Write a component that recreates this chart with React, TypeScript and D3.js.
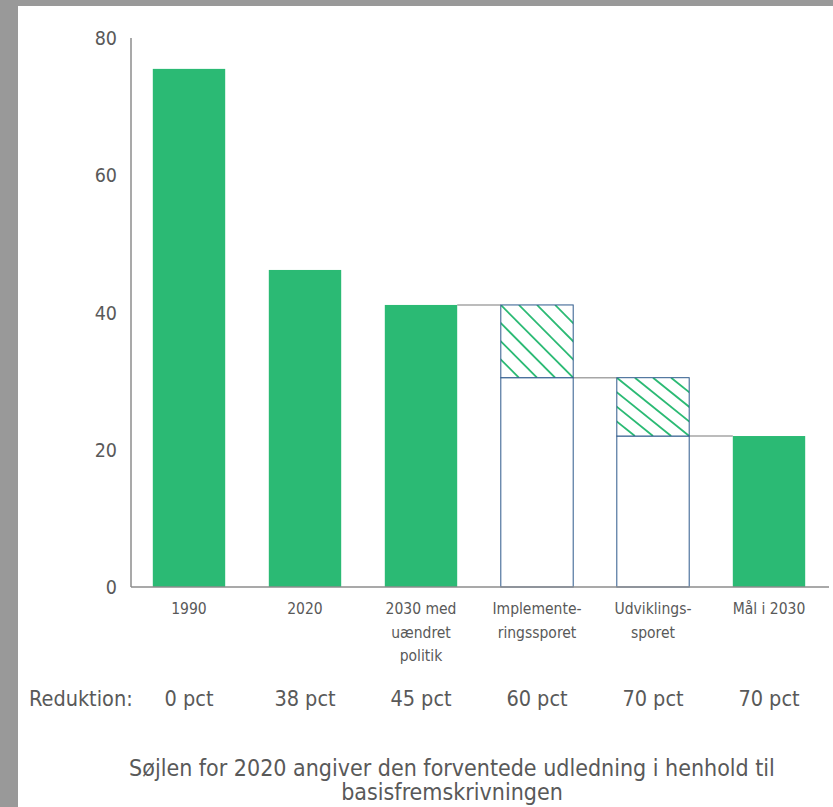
import React from "react";
import * as d3 from "d3";

// Emission bars (index values), the hatched part is the reduction a track delivers
const categories = ["1990", "2020", "2030 med uændret politik", "Implementeringssporet", "Udviklingssporet", "Mål i 2030"];
const categoryLines = [
  ["1990"],
  ["2020"],
  ["2030 med", "uændret", "politik"],
  ["Implemente-", "ringssporet"],
  ["Udviklings-", "sporet"],
  ["Mål i 2030"],
];
const baseValues = [75.5, 46.2, 41.1, 30.5, 22.0, 22.0];
const reductionValues = [0, 0, 0, 10.6, 8.5, 0];
const solidBars = [true, true, true, false, false, true];
const reductionLabels = ["0 pct", "38 pct", "45 pct", "60 pct", "70 pct", "70 pct"];
const yTicks = [0, 20, 40, 60, 80];
const captionLines = ["Søjlen for 2020 angiver den forventede udledning i henhold til", "basisfremskrivningen"];
const hatchOffsets = [-0.75, -0.5, -0.25, 0, 0.25, 0.5, 0.75];

const W = 833;
const H = 807;
const FONT = "'DejaVu Sans Condensed', 'DejaVu Sans', sans-serif";
const TEXT = "#595959";
const GREEN = "#2BBA74";
const NAVY = "#2E5A8C";

export default function App() {
  const x = d3.scaleBand<string>().domain(categories).range([131, 827]).paddingInner(0.376).paddingOuter(0.188);
  const y = d3.scaleLinear().domain([0, 80]).range([587, 38]);
  const bw = x.bandwidth();
  const cx = (c: string) => (x(c) as number) + bw / 2;

  return (
    <svg width={W} height={H} style={{ position: "absolute", left: 0, top: 0, display: "block" }} fontFamily={FONT}>
      <rect x={0} y={0} width={W} height={H} fill="#999999" />
      <rect x={18} y={6} width={W - 18} height={H - 6} fill="#ffffff" />

      <defs>
        {categories.map((c, i) =>
          reductionValues[i] > 0 ? (
            <clipPath id={`clip-${i}`} key={c}>
              <rect x={x(c)} y={y(baseValues[i] + reductionValues[i])} width={bw} height={y(baseValues[i]) - y(baseValues[i] + reductionValues[i])} />
            </clipPath>
          ) : null
        )}
      </defs>

      {/* connectors between consecutive bar tops */}
      {categories.slice(2, 5).map((c, k) => {
        const i = k + 2;
        const next = categories[i + 1];
        return (
          <line key={`conn-${c}`} x1={(x(c) as number) + bw} x2={x(next)} y1={y(baseValues[i])} y2={y(baseValues[i])} stroke="#A6A6A6" strokeWidth={1.5} />
        );
      })}

      {categories.map((c, i) => {
        const x0 = x(c) as number;
        if (solidBars[i]) {
          return <rect key={c} x={x0} y={y(baseValues[i])} width={bw} height={y(0) - y(baseValues[i])} fill={GREEN} />;
        }
        const top = y(baseValues[i] + reductionValues[i]);
        const mid = y(baseValues[i]);
        const h = mid - top;
        return (
          <g key={c}>
            <rect x={x0} y={mid} width={bw} height={y(0) - mid} fill="#ffffff" stroke={NAVY} strokeWidth={1} />
            <rect x={x0} y={top} width={bw} height={h} fill="#ffffff" />
            <g clipPath={`url(#clip-${i})`}>
              {hatchOffsets.map((o) => (
                <line key={o} x1={x0 + o * bw} y1={top} x2={x0 + (o + 1) * bw} y2={top + h} stroke={GREEN} strokeWidth={1.8} />
              ))}
            </g>
            <rect x={x0} y={top} width={bw} height={h} fill="none" stroke={NAVY} strokeWidth={1} />
          </g>
        );
      })}

      {/* axes */}
      <line x1={131} x2={131} y1={y(80)} y2={y(0)} stroke="#8C8C8C" strokeWidth={1.5} />
      <line x1={131} x2={829} y1={y(0)} y2={y(0)} stroke="#8C8C8C" strokeWidth={1.5} />

      {yTicks.map((t) => (
        <text key={t} x={117} y={y(t)} dy="0.36em" textAnchor="end" fontSize={19.5} fill={TEXT}>
          {t}
        </text>
      ))}

      {categories.map((c, i) => (
        <text key={`lab-${c}`} x={cx(c)} y={614} textAnchor="middle" fontSize={15.5} fill={TEXT}>
          {categoryLines[i].map((ln, j) => (
            <tspan key={j} x={cx(c)} y={614 + j * 23.5}>
              {ln}
            </tspan>
          ))}
        </text>
      ))}

      <text x={29} y={706} fontSize={21.5} fill={TEXT}>
        Reduktion:
      </text>
      {categories.map((c, i) => (
        <text key={`red-${c}`} x={cx(c)} y={706} textAnchor="middle" fontSize={21.5} fill={TEXT}>
          {reductionLabels[i]}
        </text>
      ))}

      {captionLines.map((ln, j) => (
        <text key={j} x={452} y={776 + j * 24} textAnchor="middle" fontSize={23} fill={TEXT}>
          {ln}
        </text>
      ))}
    </svg>
  );
}
